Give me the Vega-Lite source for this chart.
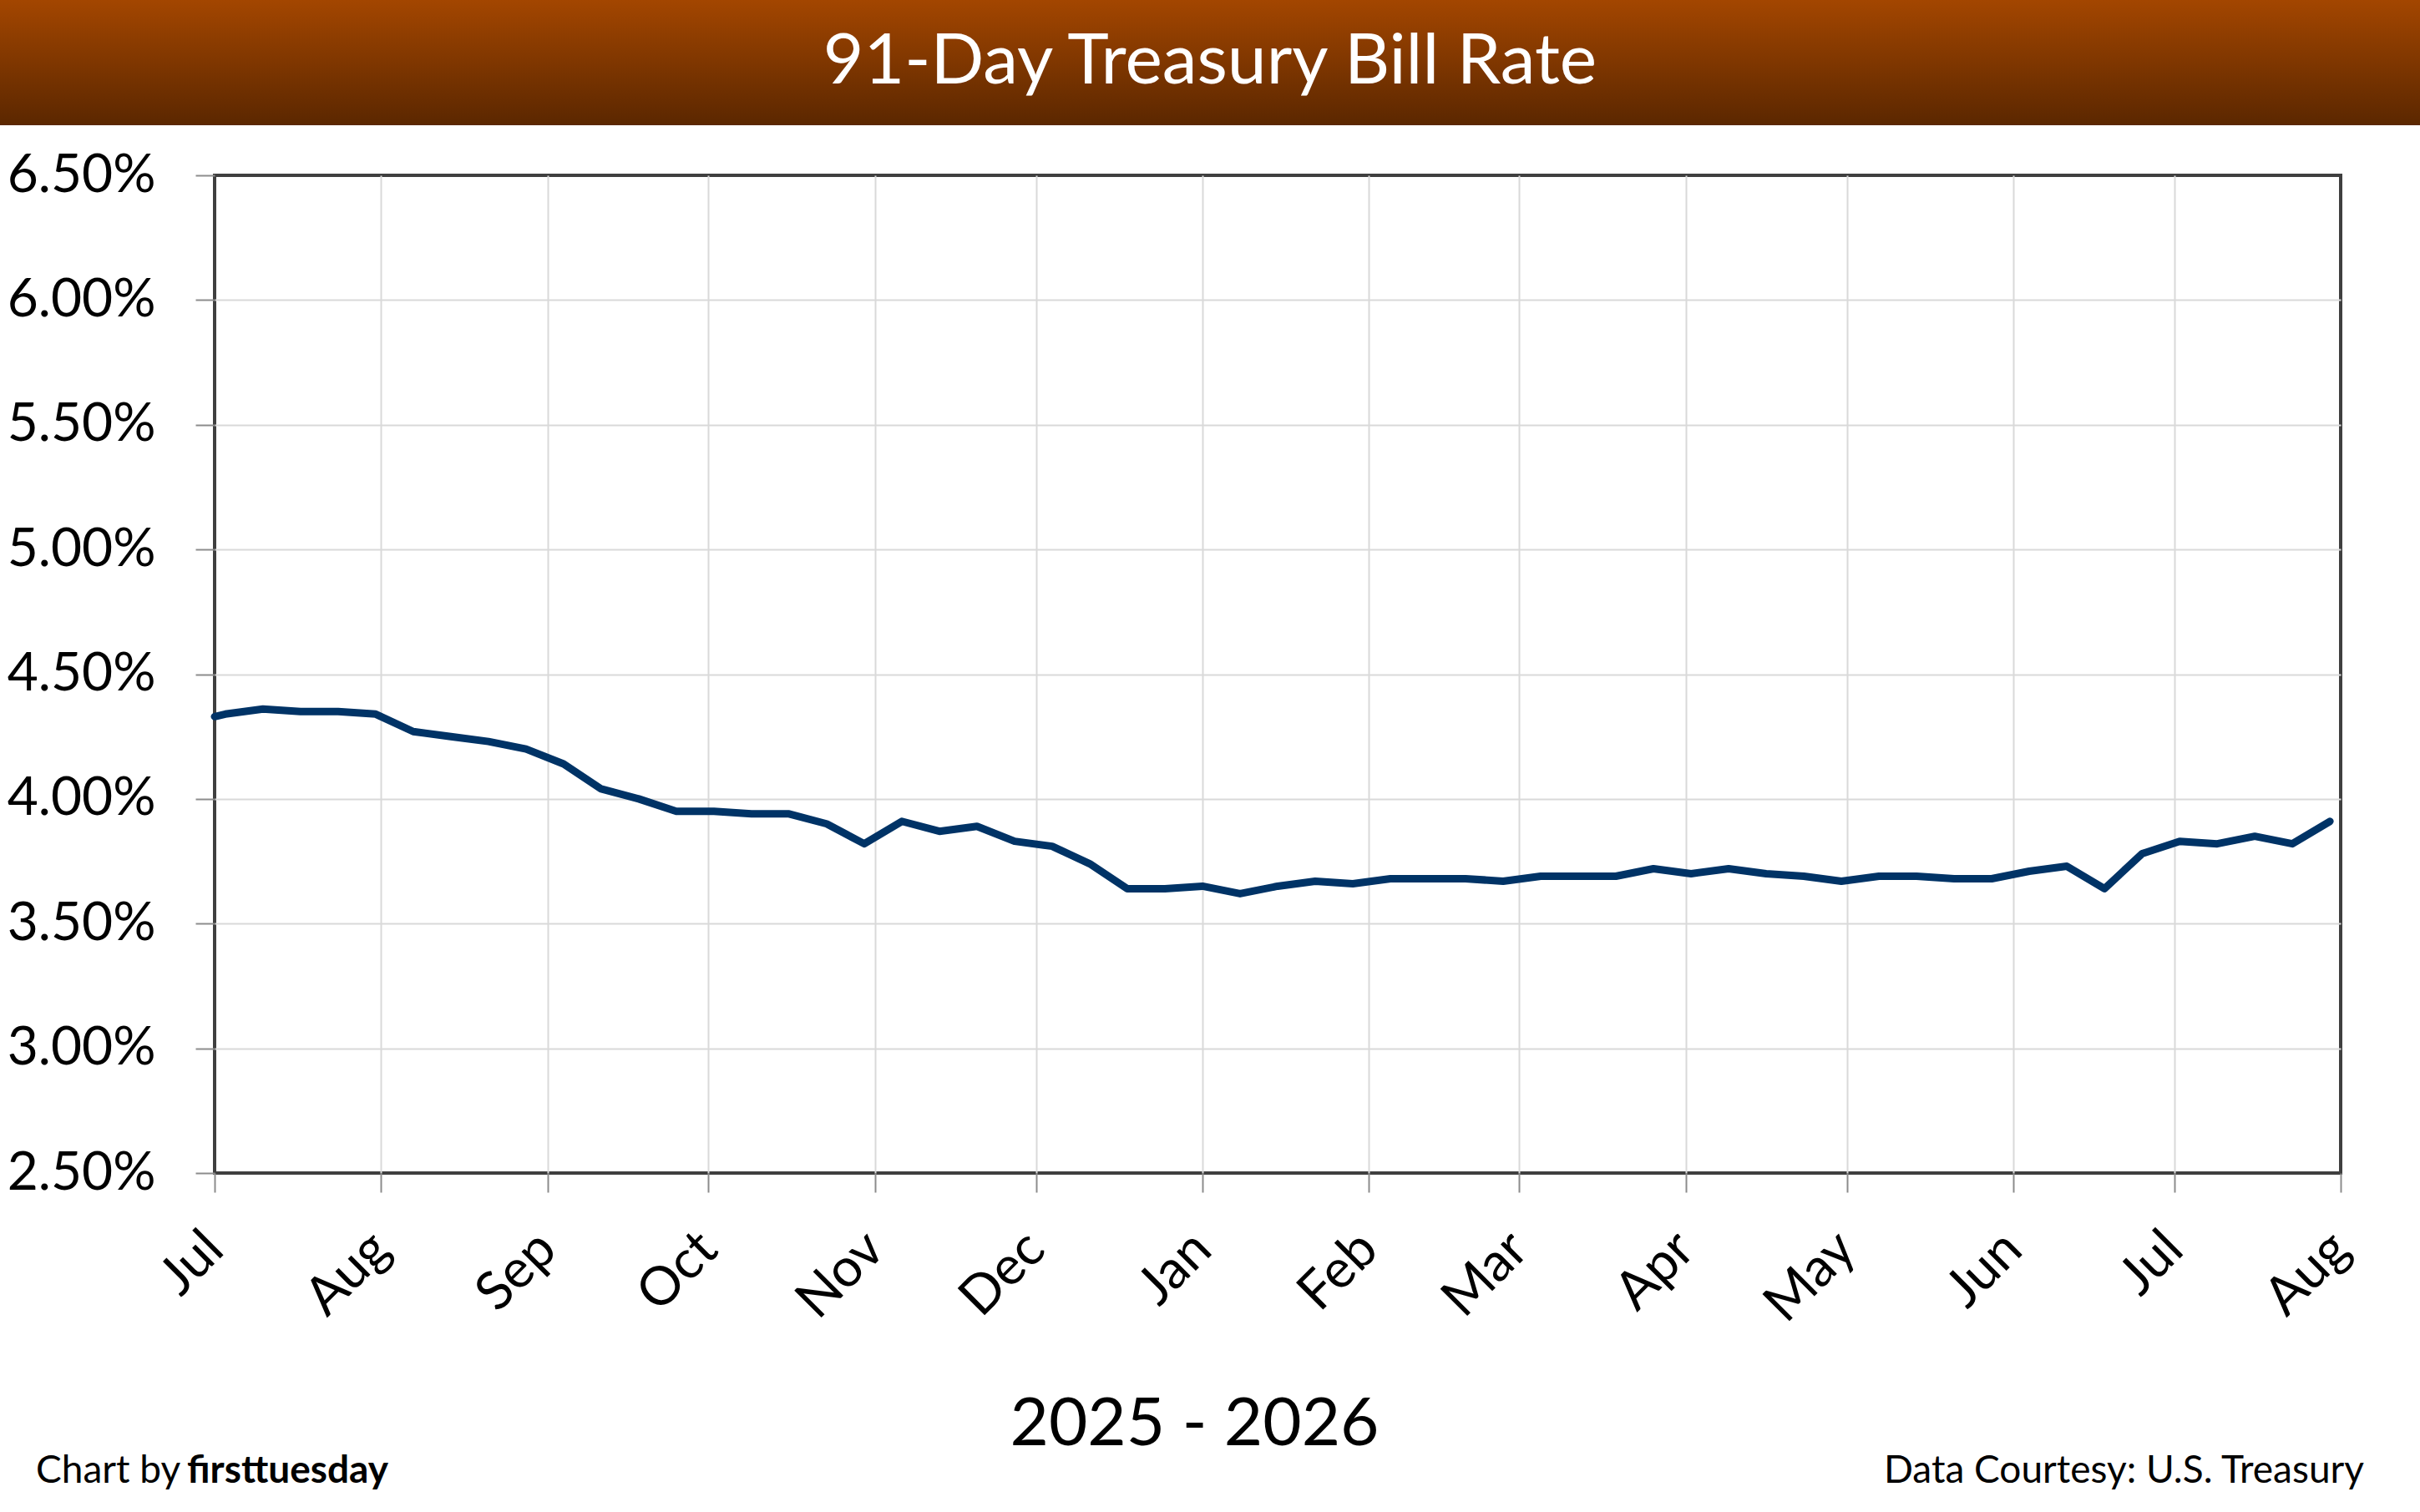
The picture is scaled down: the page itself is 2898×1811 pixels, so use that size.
{
  "$schema": "https://vega.github.io/schema/vega-lite/v6.json",
  "background": "white",
  "padding": 0,
  "config": {"font": "Lato", "view": {"stroke": null}},
  "spacing": 26,
  "vconcat": [
    {
      "width": 2898,
      "height": 150,
      "view": {
        "stroke": null,
        "fill": {
          "gradient": "linear", "x1": 0, "y1": 0, "x2": 0, "y2": 1,
          "stops": [{"offset": 0, "color": "#a34600"}, {"offset": 1, "color": "#5b2700"}]
        }
      },
      "data": {"values": [{"label": "91-Day Treasury Bill Rate"}]},
      "mark": {"type": "text", "color": "white", "fontSize": 84, "align": "center", "baseline": "middle"},
      "encoding": {"text": {"field": "label"}}
    },
    {
      "bounds": "flush",
      "spacing": 0,
      "hconcat": [
        {
          "width": 257,
          "height": 1195,
          "data": {"values": []},
          "mark": "point"
        },
        {
          "width": 2546,
          "height": 1195,
          "view": {"stroke": "#3f3f3f", "strokeWidth": 4},
          "layer": [
            {
              "data": {
                "values": [
                  {"date": "2025-07-01T00:00", "rate": 4.33},
                  {"date": "2025-07-03T00:00", "rate": 4.34},
                  {"date": "2025-07-10T00:00", "rate": 4.36},
                  {"date": "2025-07-17T00:00", "rate": 4.35},
                  {"date": "2025-07-24T00:00", "rate": 4.35},
                  {"date": "2025-07-31T00:00", "rate": 4.34},
                  {"date": "2025-08-07T00:00", "rate": 4.27},
                  {"date": "2025-08-14T00:00", "rate": 4.25},
                  {"date": "2025-08-21T00:00", "rate": 4.23},
                  {"date": "2025-08-28T00:00", "rate": 4.20},
                  {"date": "2025-09-04T00:00", "rate": 4.14},
                  {"date": "2025-09-11T00:00", "rate": 4.04},
                  {"date": "2025-09-18T00:00", "rate": 4.00},
                  {"date": "2025-09-25T00:00", "rate": 3.95},
                  {"date": "2025-10-02T00:00", "rate": 3.95},
                  {"date": "2025-10-09T00:00", "rate": 3.94},
                  {"date": "2025-10-16T00:00", "rate": 3.94},
                  {"date": "2025-10-23T00:00", "rate": 3.90},
                  {"date": "2025-10-30T00:00", "rate": 3.82},
                  {"date": "2025-11-06T00:00", "rate": 3.91},
                  {"date": "2025-11-13T00:00", "rate": 3.87},
                  {"date": "2025-11-20T00:00", "rate": 3.89},
                  {"date": "2025-11-27T00:00", "rate": 3.83},
                  {"date": "2025-12-04T00:00", "rate": 3.81},
                  {"date": "2025-12-11T00:00", "rate": 3.74},
                  {"date": "2025-12-18T00:00", "rate": 3.64},
                  {"date": "2025-12-25T00:00", "rate": 3.64},
                  {"date": "2026-01-01T00:00", "rate": 3.65},
                  {"date": "2026-01-08T00:00", "rate": 3.62},
                  {"date": "2026-01-15T00:00", "rate": 3.65},
                  {"date": "2026-01-22T00:00", "rate": 3.67},
                  {"date": "2026-01-29T00:00", "rate": 3.66},
                  {"date": "2026-02-05T00:00", "rate": 3.68},
                  {"date": "2026-02-12T00:00", "rate": 3.68},
                  {"date": "2026-02-19T00:00", "rate": 3.68},
                  {"date": "2026-02-26T00:00", "rate": 3.67},
                  {"date": "2026-03-05T00:00", "rate": 3.69},
                  {"date": "2026-03-12T00:00", "rate": 3.69},
                  {"date": "2026-03-19T00:00", "rate": 3.69},
                  {"date": "2026-03-26T00:00", "rate": 3.72},
                  {"date": "2026-04-02T00:00", "rate": 3.70},
                  {"date": "2026-04-09T00:00", "rate": 3.72},
                  {"date": "2026-04-16T00:00", "rate": 3.70},
                  {"date": "2026-04-23T00:00", "rate": 3.69},
                  {"date": "2026-04-30T00:00", "rate": 3.67},
                  {"date": "2026-05-07T00:00", "rate": 3.69},
                  {"date": "2026-05-14T00:00", "rate": 3.69},
                  {"date": "2026-05-21T00:00", "rate": 3.68},
                  {"date": "2026-05-28T00:00", "rate": 3.68},
                  {"date": "2026-06-04T00:00", "rate": 3.71},
                  {"date": "2026-06-11T00:00", "rate": 3.73},
                  {"date": "2026-06-18T00:00", "rate": 3.64},
                  {"date": "2026-06-25T00:00", "rate": 3.78},
                  {"date": "2026-07-02T00:00", "rate": 3.83},
                  {"date": "2026-07-09T00:00", "rate": 3.82},
                  {"date": "2026-07-16T00:00", "rate": 3.85},
                  {"date": "2026-07-23T00:00", "rate": 3.82},
                  {"date": "2026-07-30T00:00", "rate": 3.91}
                ]
              },
              "mark": {"type": "line", "color": "#003366", "strokeWidth": 9, "strokeJoin": "round", "strokeCap": "round"},
              "encoding": {
                "x": {
                  "field": "date",
                  "type": "temporal",
                  "scale": {
                    "domain": [{"year": 2025, "month": 7, "date": 1}, {"year": 2026, "month": 8, "date": 1}],
                    "nice": false
                  },
                  "axis": {
                    "values": [
                      {"year": 2025, "month": 7, "date": 1}, {"year": 2025, "month": 8, "date": 1},
                      {"year": 2025, "month": 9, "date": 1}, {"year": 2025, "month": 10, "date": 1},
                      {"year": 2025, "month": 11, "date": 1}, {"year": 2025, "month": 12, "date": 1},
                      {"year": 2026, "month": 1, "date": 1}, {"year": 2026, "month": 2, "date": 1},
                      {"year": 2026, "month": 3, "date": 1}, {"year": 2026, "month": 4, "date": 1},
                      {"year": 2026, "month": 5, "date": 1}, {"year": 2026, "month": 6, "date": 1},
                      {"year": 2026, "month": 7, "date": 1}, {"year": 2026, "month": 8, "date": 1}
                    ],
                    "format": "%b",
                    "labelAngle": -45,
                    "labelAlign": "right",
                    "labelBaseline": "middle",
                    "labelPadding": 58,
                    "labelFontSize": 64,
                    "labelColor": "black",
                    "labelFlush": false,
                    "labelOverlap": false,
                    "tickSize": 23,
                    "tickColor": "#8c8c8c",
                    "tickWidth": 2,
                    "domain": false,
                    "grid": true,
                    "gridColor": "#d9d9d9",
                    "gridWidth": 2,
                    "gridOpacity": {"condition": {"test": "datum.index == 0 || datum.index == 1", "value": 0}, "value": 1},
                    "title": "2025 - 2026",
                    "titleFontSize": 80,
                    "titleFontWeight": "normal",
                    "titleColor": "black",
                    "titlePadding": 72,
                    "titleX": 1173
                  }
                },
                "y": {
                  "field": "rate",
                  "type": "quantitative",
                  "scale": {"domain": [2.5, 6.5], "nice": false, "zero": false},
                  "axis": {
                    "values": [2.5, 3, 3.5, 4, 4.5, 5, 5.5, 6, 6.5],
                    "labelExpr": "format(datum.value, '.2f') + '%'",
                    "labelFontSize": 64,
                    "labelColor": "black",
                    "labelAlign": "right",
                    "labelBaseline": "middle",
                    "labelPadding": 48,
                    "tickSize": 23,
                    "tickColor": "#8c8c8c",
                    "tickWidth": 2,
                    "domain": false,
                    "grid": true,
                    "gridColor": "#d9d9d9",
                    "gridWidth": 2,
                    "gridOpacity": {"condition": {"test": "datum.index == 0 || datum.index == 1", "value": 0}, "value": 1},
                    "title": null
                  }
                }
              }
            },
            {
              "data": {"values": [{"credit": "Chart by "}]},
              "mark": {"type": "text", "align": "left", "baseline": "alphabetic", "fontSize": 46, "color": "black", "x": -214, "y": 1566},
              "encoding": {"text": {"field": "credit"}}
            },
            {
              "data": {"values": [{"brand": "firsttuesday"}]},
              "mark": {"type": "text", "align": "left", "baseline": "alphabetic", "fontSize": 46, "fontWeight": "bold", "color": "black", "x": -33, "y": 1566},
              "encoding": {"text": {"field": "brand"}}
            },
            {
              "data": {"values": [{"source": "Data Courtesy: U.S. Treasury"}]},
              "mark": {"type": "text", "align": "right", "baseline": "alphabetic", "fontSize": 46, "color": "black", "x": 2574, "y": 1566},
              "encoding": {"text": {"field": "source"}}
            }
          ]
        }
      ]
    }
  ]
}
